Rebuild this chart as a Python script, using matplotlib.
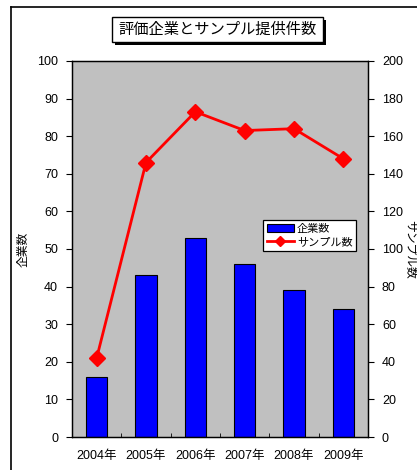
import numpy as np
import matplotlib
matplotlib.use("Agg")
import matplotlib.pyplot as plt
from matplotlib.patches import Rectangle

plt.rcParams['font.family'] = ['Liberation Sans', 'Noto Sans CJK JP']

# data
years = ['2004年', '2005年', '2006年', '2007年', '2008年', '2009年']
companies = [16, 43, 53, 46, 39, 34]
samples = [42, 146, 173, 163, 164, 148]

W, H = 417, 470
fig = plt.figure(figsize=(W / 100, H / 100), dpi=100)

# outer frame (only left and top visible in the original)
fig.add_artist(plt.Line2D([11 / W, 11 / W], [0, 1 - 7 / H], color='black', lw=1.2))
fig.add_artist(plt.Line2D([11 / W, 1], [1 - 7 / H, 1 - 7 / H], color='black', lw=1.2))

left, right, top, bottom = 72, 368, 61, 437
pw = right - left
ax = fig.add_axes([left / W, 1 - bottom / H, pw / W, (bottom - top) / H])
ax.set_facecolor('#c0c0c0')

x = np.arange(len(years))
ax.bar(x, companies, width=0.43, color='#0000ff', edgecolor='black', lw=0.8,
       label='企業数', zorder=2)
ax.set_xlim(-0.5, len(years) - 0.5)
ax.set_ylim(0, 100)
ax.set_yticks(np.arange(0, 101, 10))
ax.set_xticks(x)
ax.set_xticklabels(years)
ax.set_xticks(np.arange(-0.5, len(years), 1), minor=True)
ax.tick_params(axis='x', which='major', length=0, pad=9, labelsize=9)
ax.tick_params(axis='x', which='minor', direction='in', length=3)
ax.tick_params(axis='y', direction='out', length=4, labelsize=9, pad=6)
ax.set_ylabel('企業数', fontsize=8.5)
ax.yaxis.set_label_coords((30 - left) / pw, 0.5)

ax2 = ax.twinx()
ax2.plot(x, samples, color='#ff0000', lw=2, marker='D', markersize=8,
         label='サンプル数', zorder=3)
ax2.set_ylim(0, 200)
ax2.set_yticks(np.arange(0, 201, 20))
ax2.tick_params(axis='y', direction='out', length=4, labelsize=9, pad=6)
ax2.set_ylabel('サンプル数', fontsize=8.5, rotation=270, va='center')
ax2.yaxis.set_label_coords((410 - left) / pw, 0.5)

for a in (ax, ax2):
    for s in a.spines.values():
        s.set_color('black')
        s.set_linewidth(0.9)

h1, l1 = ax.get_legend_handles_labels()
h2, l2 = ax2.get_legend_handles_labels()
leg = ax2.legend(h1 + h2, l1 + l2, loc='upper left',
                 bbox_to_anchor=((263 - left) / pw, (bottom - 220) / (bottom - top)),
                 fontsize=8, frameon=True, fancybox=False, edgecolor='black',
                 framealpha=1, borderpad=0.35, handlelength=2.4, labelspacing=0.3,
                 handletextpad=0.3, markerscale=0.6, borderaxespad=0)
leg.get_frame().set_linewidth(0.9)

# title box with shadow
bx0, by0, bx1, by1 = 112, 17, 323, 42
fig.add_artist(Rectangle(((bx0 + 3) / W, 1 - (by1 + 3) / H), (bx1 - bx0) / W,
                         (by1 - by0) / H, facecolor='black', edgecolor='none',
                         transform=fig.transFigure))
fig.add_artist(Rectangle((bx0 / W, 1 - by1 / H), (bx1 - bx0) / W, (by1 - by0) / H,
                         facecolor='white', edgecolor='black', lw=1,
                         transform=fig.transFigure))
fig.text((bx0 + bx1) / 2 / W, 1 - (by0 + by1) / 2 / H, '評価企業とサンプル提供件数',
         ha='center', va='center', fontsize=11, family='Noto Sans CJK JP')

fig.savefig('out.png', dpi=100)
